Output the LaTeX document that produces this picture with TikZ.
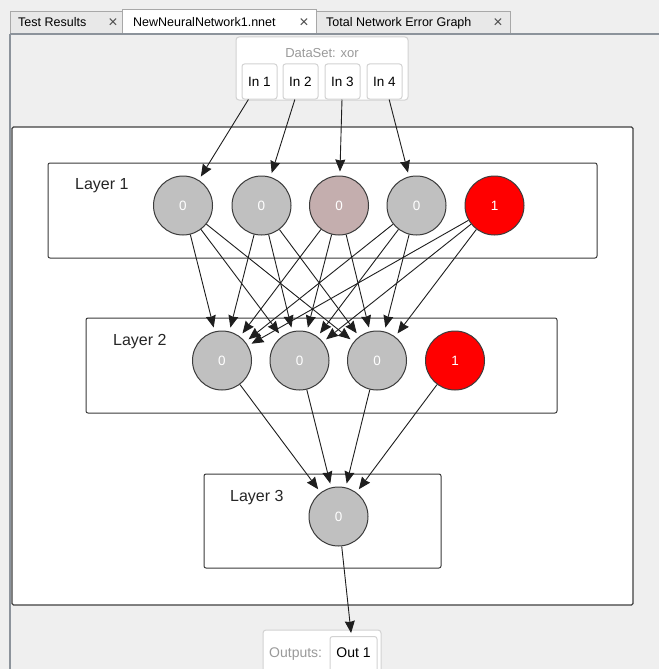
\documentclass[tikz,border=0pt]{standalone}
\usepackage{fontspec}
\setmainfont{Liberation Sans}
\usetikzlibrary{arrows.meta}
\definecolor{bgc}{HTML}{EFEFEF}
\definecolor{frame}{HTML}{8C939B}
\definecolor{tabin}{HTML}{E8E8E8}
\definecolor{tabbd}{HTML}{A8A8A8}
\definecolor{boxbd}{HTML}{D2D2D2}
\definecolor{greyt}{HTML}{9A9A9A}
\definecolor{neur}{HTML}{C0C0C0}
\definecolor{neurp}{HTML}{C4AEAE}
\definecolor{neurr}{HTML}{FF0000}
\definecolor{nbd}{HTML}{3C3C3C}
\definecolor{lay}{HTML}{3A3A3A}
\definecolor{edge}{HTML}{1E1E1E}
\tikzset{
  neuron/.style={circle, minimum size=59pt, inner sep=0pt, draw=nbd, line width=1pt, fill=neur, text=white, font=\fontsize{13.5}{13.5}\selectfont},
  inbox/.style={draw=boxbd, fill=white, rounded corners=2.5pt, line width=1pt, minimum width=35pt, minimum height=35pt, inner sep=0pt, text height=10pt, text depth=1pt, font=\fontsize{13.5}{13.5}\selectfont},
  layerbox/.style={draw=lay, fill=white, rounded corners=2pt, line width=1pt},
  laylabel/.style={anchor=base west, inner sep=0pt, text=black!85, font=\fontsize{16}{16}\selectfont},
  conn/.style={draw=edge, line width=0.9pt, -{Stealth[length=12pt,width=10pt,inset=1pt]}, shorten >=4pt},
  tabtext/.style={anchor=base west, inner sep=0pt, font=\fontsize{12.5}{12.5}\selectfont},
  closex/.style={anchor=base, inner sep=0pt, text=black!70, font=\fontsize{16}{16}\selectfont},
}
\begin{document}
\begin{tikzpicture}[x=1pt,y=-1pt]
\useasboundingbox (0,0) rectangle (659,669);
\fill[bgc] (0,0) rectangle (659,669);
% tabs
\draw[tabbd, fill=tabin, line width=1pt] (10,12) rectangle (122,34);
\draw[tabbd, fill=tabin, line width=1pt] (316,12) rectangle (510,34);
\draw[tabbd, fill=white, line width=1pt] (122,10) rectangle (316,35);
\node[tabtext] (t1) at (18,27) {Test Results};
\node[tabtext] (t2) at (133,27) {NewNeuralNetwork1.nnet};
\node[tabtext] (t3) at (326,27) {Total Network Error Graph};
\node[closex] (x1) at (113,28) {×};
\node[closex] (x2) at (304,28) {×};
\node[closex] (x3) at (498,28) {×};
% frame lines
\draw[frame, line width=2pt] (10,34) -- (659,34);
\draw[frame, line width=2pt] (10,34) -- (10,669);
% main panel
\draw[draw=black!75, fill=white, line width=1.2pt, rounded corners=1.5pt] (12,127) rectangle (633,605);
% dataset box
\draw[boxbd, fill=white, rounded corners=3pt, line width=1pt] (236,37) rectangle (408,100);
\node[anchor=base, inner sep=0pt, text=greyt, font=\fontsize{13}{13}\selectfont] (ds) at (322,57) {DataSet: xor};
\node[inbox] (in1) at (259.5,81.5) {In 1};
\node[inbox] (in2) at (300.5,81.5) {In 2};
\node[inbox] (in3) at (342.5,81.5) {In 3};
\node[inbox] (in4) at (384.5,81.5) {In 4};
% layers
\draw[layerbox] (48,163) rectangle (597,258);
\draw[layerbox] (86,318) rectangle (557,413);
\draw[layerbox] (204,474) rectangle (441,568);
\node[laylabel] (l1) at (75,189) {Layer 1};
\node[laylabel] (l2) at (113,345) {Layer 2};
\node[laylabel] (l3) at (230,501) {Layer 3};
% neurons
\node[neuron] (a1) at (183,205.5) {0};
\node[neuron] (a2) at (261.5,205.5) {0};
\node[neuron, fill=neurp] (a3) at (339,205.5) {0};
\node[neuron] (a4) at (416.5,205.5) {0};
\node[neuron, fill=neurr] (a5) at (494.5,205.5) {1};
\node[neuron] (b1) at (222,360.5) {0};
\node[neuron] (b2) at (299.5,360.5) {0};
\node[neuron] (b3) at (377,360.5) {0};
\node[neuron, fill=neurr] (b4) at (455,360.5) {1};
\node[neuron] (c1) at (338.5,516.5) {0};
% outputs
\draw[boxbd, fill=white, rounded corners=3pt, line width=1pt] (263,630) rectangle (381,675);
\node[anchor=base west, inner sep=0pt, text=greyt, font=\fontsize{14}{14}\selectfont] (outl) at (269,657) {Outputs:};
\node[draw=boxbd, fill=white, rounded corners=2.5pt, line width=1pt, minimum width=47pt, minimum height=38pt, inner sep=0pt, anchor=north] (out1) at (353.5,636) {};
\node[anchor=base, inner sep=0pt, font=\fontsize{14}{14}\selectfont] (out1t) at (353.5,657) {Out 1};
% connections
\draw[conn] (in1) -- (a1);
\draw[conn] (in2) -- (a2);
\draw[conn] (in3) -- (a3);
\draw[conn] (in4) -- (a4);
\foreach \s in {a1,a2,a3,a4,a5}{
  \foreach \t in {b1,b2,b3}{
    \draw[conn] (\s) -- (\t);
  }
}
\foreach \s in {b1,b2,b3,b4}{
  \draw[conn] (\s) -- (c1);
}
\draw[conn, shorten >=3pt] (c1) -- (out1);
\end{tikzpicture}
\end{document}
